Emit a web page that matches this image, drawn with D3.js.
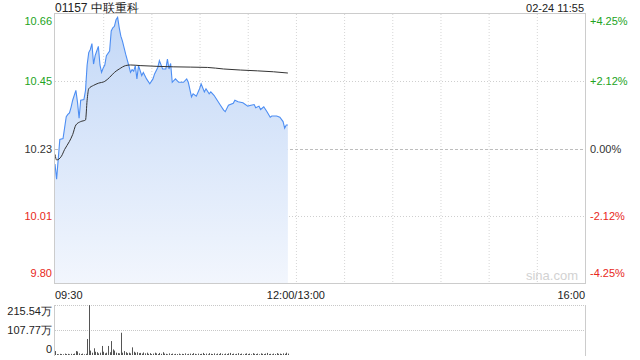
<!DOCTYPE html>
<html><head><meta charset="utf-8">
<script src="https://cdn.jsdelivr.net/npm/d3@7"></script>
<style>html,body{margin:0;padding:0;background:#fff;}svg{display:block;font-family:Arial,"Liberation Sans",sans-serif;}</style>
</head><body>
<svg id="c" width="640" height="360"></svg>
<script>
const title = "01157 中联重科";
const stamp = "02-24 11:55";
const prevClose = 10.23;
const pctRange = 4.25;
const priceTicks = ["10.66","10.45","10.23","10.01","9.80"];
const pctTicks = ["+4.25%","+2.12%","0.00%","-2.12%","-4.25%"];
const pctTickVals = [4.25, 2.125, 0, -2.125, -4.25];
const timeLabels = ["09:30","12:00/13:00","16:00"];
const timeLabelMin = [0,150,330];
const volTicks = ["215.54万","107.77万","0"];
const volTickVals = [215.54,107.77,0];
// minutes since 09:30 and price
const priceMin = [0,1,3,5,7,8,9,10,11,13,14,15,16,18,19,20,21,22,23,24,25,26,27,28,29,30,31,32,34,35,36,37,38,39,40,41,42,43,44,46,47,48,49,50,51,52,54,55,57,59,61,62,64,65,67,69,70,71,72,73,75,77,80,82,83,85,86,88,90,91,93,94,96,97,99,101,103,105,106,108,111,112,114,117,120,122,124,125,127,128,130,132,134,135,138,140,142,143,144,145];
const price = [10.18,10.131,10.259,10.262,10.333,10.34,10.345,10.363,10.386,10.418,10.38,10.328,10.386,10.388,10.418,10.50,10.54,10.55,10.569,10.503,10.53,10.545,10.56,10.50,10.476,10.49,10.50,10.53,10.545,10.61,10.62,10.625,10.646,10.654,10.62,10.593,10.577,10.556,10.535,10.497,10.476,10.485,10.48,10.498,10.455,10.498,10.466,10.476,10.455,10.439,10.455,10.471,10.492,10.514,10.487,10.487,10.519,10.487,10.505,10.444,10.455,10.444,10.444,10.455,10.444,10.397,10.407,10.399,10.423,10.439,10.413,10.423,10.407,10.413,10.402,10.386,10.37,10.354,10.349,10.37,10.376,10.386,10.381,10.378,10.367,10.370,10.372,10.362,10.367,10.356,10.365,10.349,10.331,10.335,10.335,10.331,10.317,10.296,10.306,10.306];
const avgMin = [0,1,4,6,9,11,13,16,19,20,21,24,27,31,34,37,40,44,47,53,74,95,105,126,136,145];
const avgPrice = [10.211,10.193,10.205,10.227,10.253,10.275,10.306,10.317,10.322,10.386,10.423,10.434,10.441,10.447,10.46,10.476,10.487,10.498,10.50,10.498,10.494,10.492,10.487,10.481,10.478,10.474];
const volume = [17,4,3,5,4,3,6,4,5,3,5,4,6,17,15,7,4,6,3,5,69,215,19,10,29,14,12,7,10,39,14,7,10,39,12,60,24,19,10,8,7,96,10,17,12,8,10,7,33,14,10,12,8,9,6,11,7,10,5,8,4,6,10,7,4,9,5,12,6,5,3,7,4,6,3,5,4,6,3,5,4,7,3,5,6,4,8,5,3,6,4,5,9,4,6,3,8,5,4,7,3,6,4,8,5,3,6,4,7,9,4,6,3,5,8,4,6,3,5,7,4,6,3,8,5,4,6,3,7,5,4,6,9,4,5,3,6,4,8,5,6,4,7,5,10,6];

const svg = d3.select("#c");
const L = 55, R = 585, T = 14, B = 283;
const VT = 305, VB = 355;
const green = "#22a322", red = "#e8281b", dark = "#333";

const x = d3.scaleLinear().domain([0,330]).range([L,R]);
const yp = d3.scaleLinear().domain([prevClose*(1-pctRange/100), prevClose*(1+pctRange/100)]).range([B,T]);
const ypct = d3.scaleLinear().domain([-pctRange,pctRange]).range([B,T]);
const yv = d3.scaleLinear().domain([0,215.54]).range([VB,VT]);

// gradient
const defs = svg.append("defs");
const g = defs.append("linearGradient").attr("id","ag").attr("x1",0).attr("y1",0).attr("x2",0).attr("y2",1);
g.append("stop").attr("offset","0%").attr("stop-color","#c3d8f7");
g.append("stop").attr("offset","100%").attr("stop-color","#f2f6fd");

// vertical grid (price)
const vg = d3.range(1,11).map(i=>i*30);
svg.append("g").selectAll("line").data(vg).join("line")
  .attr("x1",d=>x(d)+0.5).attr("x2",d=>x(d)+0.5).attr("y1",T).attr("y2",B)
  .attr("stroke","#d6d6d6").attr("stroke-dasharray","1,2");
// horizontal grid
svg.append("g").selectAll("line").data([2.125,-2.125]).join("line")
  .attr("x1",L).attr("x2",R).attr("y1",d=>Math.round(ypct(d))+0.5).attr("y2",d=>Math.round(ypct(d))+0.5)
  .attr("stroke","#cfcfcf").attr("stroke-dasharray","1,2");
svg.append("line").attr("x1",L).attr("x2",R).attr("y1",Math.round(ypct(0))+0.5).attr("y2",Math.round(ypct(0))+0.5)
  .attr("stroke","#bdbdbd").attr("stroke-dasharray","3,2");

const pts = priceMin.map((m,i)=>[m,price[i]]);
svg.append("path").datum(pts)
  .attr("d", d3.area().x(d=>x(d[0])).y0(B).y1(d=>yp(d[1])))
  .attr("fill","url(#ag)");
svg.append("path").datum(pts)
  .attr("d", d3.line().x(d=>x(d[0])).y(d=>yp(d[1])))
  .attr("fill","none").attr("stroke","#4d8ef3").attr("stroke-width",1.1);
const apts = avgMin.map((m,i)=>[m,avgPrice[i]]);
svg.append("path").datum(apts)
  .attr("d", d3.line().x(d=>x(d[0])).y(d=>yp(d[1])).curve(d3.curveMonotoneX))
  .attr("fill","none").attr("stroke","#333").attr("stroke-width",1);

// frame
svg.append("rect").attr("x",L-0.5).attr("y",T-0.5).attr("width",R-L+1).attr("height",B-T+1)
  .attr("fill","none").attr("stroke","#cccccc");

// watermark
svg.append("text").attr("x",R-7).attr("y",B-3).attr("text-anchor","end")
  .attr("font-size",13).attr("fill","#d2d2d2").text("sina.com");

// left price labels
const colorOf = i => i<2 ? green : (i===2 ? dark : red);
const labY = (v,i) => i===0 ? ypct(v)+11 : (i===4 ? ypct(v)-6 : ypct(v)+4);
svg.append("g").selectAll("text").data(priceTicks).join("text")
  .attr("x",52).attr("y",(d,i)=>labY(pctTickVals[i],i)).attr("text-anchor","end")
  .attr("font-size",11).attr("fill",(d,i)=>colorOf(i)).text(d=>d);
svg.append("g").selectAll("text").data(pctTicks).join("text")
  .attr("x",590).attr("y",(d,i)=>labY(pctTickVals[i],i)).attr("text-anchor","start")
  .attr("font-size",11).attr("fill",(d,i)=>colorOf(i)).text(d=>d);

// title
svg.append("text").attr("x",L).attr("y",12).attr("font-size",12).attr("fill","#222").text(title);
svg.append("text").attr("x",R-1).attr("y",12).attr("text-anchor","end").attr("font-size",11).attr("fill","#222").text(stamp);

// time labels
svg.append("g").selectAll("text").data(timeLabels).join("text")
  .attr("x",(d,i)=>x(timeLabelMin[i])).attr("y",299)
  .attr("text-anchor",(d,i)=>i===0?"start":(i===2?"end":"middle"))
  .attr("font-size",11).attr("fill","#222").text(d=>d);

// volume panel
svg.append("g").selectAll("line").data([215.54,107.77]).join("line")
  .attr("x1",L).attr("x2",R).attr("y1",d=>Math.round(yv(d))+0.5).attr("y2",d=>Math.round(yv(d))+0.5)
  .attr("stroke","#c8c8c8").attr("stroke-dasharray","1,1");
svg.append("line").attr("x1",L-0.5).attr("x2",L-0.5).attr("y1",VT).attr("y2",VB+1).attr("stroke","#cccccc");
svg.append("line").attr("x1",R+0.5).attr("x2",R+0.5).attr("y1",VT).attr("y2",VB+1).attr("stroke","#cccccc");
svg.append("g").selectAll("rect").data(volume).join("rect")
  .attr("x",(d,i)=>Math.round(x(i))).attr("width",1)
  .attr("y",d=>yv(d)).attr("height",d=>VB-yv(d))
  .attr("fill","#555");
svg.append("g").selectAll("text").data(volTicks).join("text")
  .attr("x",52).attr("y",(d,i)=> i===2 ? yv(volTickVals[i])-2 : yv(volTickVals[i])+(i===0?10:4))
  .attr("text-anchor","end").attr("font-size",11).attr("fill","#222").text(d=>d);
</script>
</body></html>
